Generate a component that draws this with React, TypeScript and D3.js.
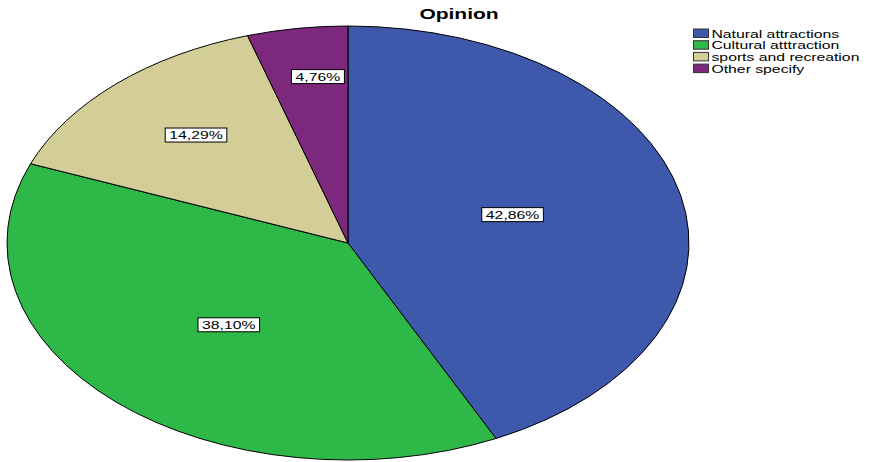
import React from "react";
import * as d3 from "d3";

const categories = ["Natural attractions", "Cultural atttraction", "sports and recreation", "Other specify"];
const values = [42.86, 38.10, 14.29, 4.76];
const labels = ["42,86%", "38,10%", "14,29%", "4,76%"];
const colors = ["#3E58AC", "#2EB848", "#D3CE97", "#7C287D"];
const labelRadius = [0.5, 0.514, 0.668, 0.772];
const labelAngleShift = [-2.3, 0, 1, 2];

const W = 869, H = 462;
const cx = 348, cy = 243, rx = 341, ry = 217;
const SX = 1.37;

export default function App() {
  const pie = d3.pie<number>().sort(null).startAngle(0).endAngle(2 * Math.PI);
  const arcs = pie(values);
  const R = 100;
  const arc = d3.arc<d3.PieArcDatum<number>>().innerRadius(0).outerRadius(R);
  const sx = rx / R, sy = ry / R;
  return (
    <svg width={W} height={H} style={{ position: "absolute", left: 0, top: 0, fontFamily: "Liberation Sans, Arial, sans-serif" }}>
      <rect width={W} height={H} fill="#fff" />
      <g transform="translate(459,18.5) scale(1.5,1)">
        <text x={0} y={0} textAnchor="middle" fontSize={14} fontWeight="bold">Opinion</text>
      </g>
      <g transform={`translate(${cx},${cy}) scale(${sx},${sy})`}>
        {arcs.map((a, i) => (
          <path key={i} d={arc(a) || ""} fill={colors[i]} stroke="#000" strokeWidth={1} vectorEffect="non-scaling-stroke" />
        ))}
      </g>
      {arcs.map((a, i) => {
        const mid = (a.startAngle + a.endAngle) / 2 + (labelAngleShift[i] * Math.PI) / 180;
        const f = labelRadius[i];
        const x = cx + Math.sin(mid) * rx * f;
        const y = cy - Math.cos(mid) * ry * f;
        const w = labels[i].length * 8.6 + 10;
        return (
          <g key={i}>
            <rect x={x - w / 2} y={y - 7} width={w} height={14} fill="#fff" stroke="#000" strokeWidth={1} />
            <g transform={`translate(${x},${y + 4.2}) scale(${SX},1)`}>
              <text x={0} y={0} textAnchor="middle" fontSize={11.5}>{labels[i]}</text>
            </g>
          </g>
        );
      })}
      <g transform="translate(693,28.5)">
        {categories.map((c, i) => (
          <g key={i} transform={`translate(0,${i * 11.7})`}>
            <rect x={0.5} y={0.5} width={15} height={8.5} fill={colors[i]} stroke="#333" strokeWidth={1} />
            <g transform={`translate(18.5,9) scale(${SX},1)`}>
              <text x={0} y={0} fontSize={11.5}>{c}</text>
            </g>
          </g>
        ))}
      </g>
    </svg>
  );
}
